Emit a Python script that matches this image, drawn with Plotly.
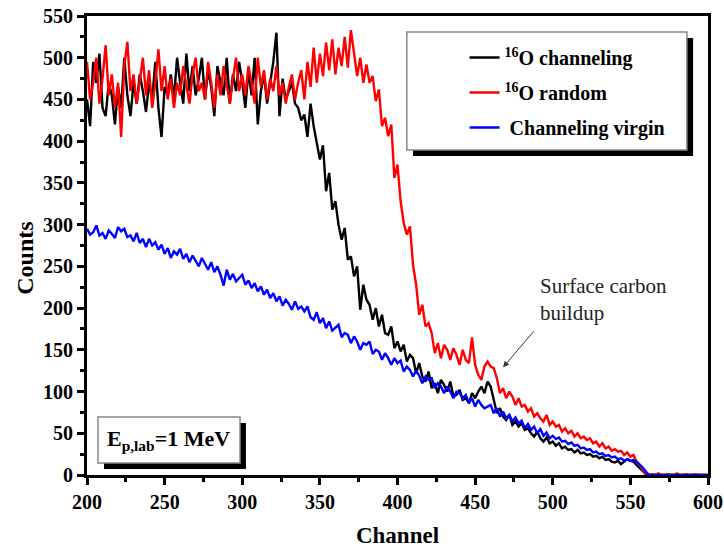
import plotly.graph_objects as go

# Channel grid (every second channel)
channel = list(range(200, 601, 2))

# 16O channeling spectrum
o16_channeling = [
    450, 418, 495, 470, 505, 440, 430, 470, 455, 420,
    465, 440, 500, 455, 430, 470, 445, 480, 460, 435,
    470, 450, 495, 440, 405, 465, 455, 480, 450, 500,
    470, 445, 505, 460, 490, 455, 475, 500, 450, 485,
    465, 430, 490, 470, 455, 500, 445, 480, 460, 495,
    470, 440, 485, 455, 500, 420, 460, 480, 445, 470,
    495, 530, 430, 475, 450, 460, 470, 445, 440, 425,
    432, 405, 445, 418, 400, 378, 395, 340, 362, 318,
    328, 300, 282, 296, 258, 262, 238, 250, 198, 228,
    210, 204, 186, 200, 178, 192, 170, 168, 178, 152,
    160, 148, 156, 136, 144, 140, 122, 134, 118, 112,
    124, 104, 110, 98, 114, 108, 100, 112, 94, 96,
    102, 90, 92, 86, 98, 92, 100, 106, 98, 112,
    106, 90, 74, 80, 70, 66, 72, 60, 64, 58,
    62, 54, 56, 50, 46, 52, 44, 40, 45, 38,
    40, 35, 38, 32, 34, 30, 31, 27, 30, 26,
    27, 24, 25, 22, 23, 20, 22, 18, 19, 16,
    15, 17, 13, 16, 19, 17, 16, 12, 8, 4,
    1, 0, 0, 0, 0, 0, 0, 0, 0, 0,
    0, 0, 0, 0, 0, 0, 0, 0, 0, 0,
    0,
]

# 16O random spectrum
o16_random = [
    495, 450, 470, 500, 445, 475, 515, 455, 480, 440,
    470, 405, 490, 519, 460, 480, 445, 470, 500, 455,
    485, 440, 470, 510, 460, 490, 450, 475, 440, 470,
    455, 490, 465, 445, 480, 500, 460, 470, 450, 495,
    470, 440, 480, 455, 490, 465, 445, 475, 500, 460,
    480, 455, 490, 470, 445, 500, 465, 485, 450, 475,
    460, 490, 455, 470, 445, 465, 480, 450, 470, 485,
    450, 495, 465, 512, 470, 505, 478, 518, 485, 522,
    480, 512, 490, 525, 488, 533, 505, 478, 500, 470,
    492, 470, 478, 448, 462, 418, 428, 406, 420, 356,
    372, 328, 302, 288, 298, 252, 228, 192, 204, 178,
    182, 170, 146, 158, 140, 156, 150, 138, 152, 144,
    132, 150, 138, 134, 165, 132, 120, 114, 130, 136,
    130, 128, 116, 98, 104, 92, 100, 94, 84, 92,
    82, 84, 76, 80, 70, 74, 68, 64, 72, 60,
    64, 58, 60, 52, 56, 50, 53, 46, 50, 44,
    46, 42, 44, 38, 40, 34, 38, 32, 34, 29,
    31, 28, 29, 24, 27, 22, 24, 16, 12, 6,
    2, 0, 1, 0, 2, 0, 0, 1, 0, 0,
    2, 0, 0, 1, 0, 0, 1, 0, 0, 0,
    0,
]

# Channeling spectrum of the virgin crystal
channeling_virgin = [
    295, 288, 291, 299, 287, 290, 283, 293, 289, 284,
    297, 292, 295, 285, 287, 280, 290, 278, 283, 273,
    283, 275, 279, 270, 276, 265, 272, 260, 268, 264,
    271, 259, 265, 255, 263, 257, 250, 260, 252, 246,
    255, 243, 250, 240, 227, 246, 234, 241, 232, 236,
    240, 228, 233, 224, 230, 220, 226, 216, 222, 212,
    218, 208, 214, 203, 210, 205, 198, 208, 199, 202,
    196, 202, 189, 186, 195, 182, 188, 176, 184, 173,
    176, 180, 165, 170, 168, 158, 166, 160, 150, 158,
    156, 160, 145, 150, 148, 138, 146, 140, 132, 140,
    134, 137, 124, 130, 126, 118, 125, 119, 110, 118,
    114, 116, 104, 110, 106, 98, 106, 100, 92, 100,
    98, 92, 96, 86, 92, 82, 90, 84, 80, 82,
    84, 74, 80, 70, 76, 68, 72, 64, 69, 62,
    65, 56, 61, 54, 58, 50, 55, 47, 51, 44,
    47, 43, 45, 40, 41, 37, 39, 35, 36, 32,
    33, 30, 31, 27, 28, 25, 26, 23, 24, 21,
    22, 19, 20, 17, 19, 17, 18, 16, 13, 9,
    4, 0, 0, 0, 0, 0, 0, 0, 0, 0,
    0, 0, 0, 0, 0, 0, 0, 0, 0, 0,
    0,
]

series = [
    ("<sup>16</sup>O channeling", o16_channeling, "#000000"),
    ("<sup>16</sup>O random", o16_random, "#ff0000"),
    (" Channeling virgin", channeling_virgin, "#0000ff"),
]

SERIF = "Liberation Serif"

fig = go.Figure()
for i, (name, values, color) in enumerate(series):
    fig.add_trace(go.Scatter(
        x=channel, y=values, mode="lines", name=name,
        legendgroup=f"g{i}",
        line=dict(color=color, width=2.4),
    ))

axis_common = dict(
    showline=True, linecolor="black", linewidth=3, mirror=True,
    showgrid=False, zeroline=False, automargin=False,
    ticks="outside", ticklen=7, tickwidth=3, tickcolor="black",
    tickfont=dict(family=SERIF, size=20, color="black", weight="bold"),
)

fig.update_xaxes(
    range=[200, 600], dtick=50, tick0=200,
    minor=dict(ticks="outside", ticklen=4, tickwidth=3, dtick=25, tickcolor="black"),
    title=dict(text="Channel", font=dict(family=SERIF, size=23, color="black", weight="bold"), standoff=16),
    **axis_common,
)
fig.update_yaxes(
    range=[0, 550], dtick=50, tick0=0,
    minor=dict(ticks="outside", ticklen=4, tickwidth=3, dtick=25, tickcolor="black"),
    **axis_common,
)

# Inward-pointing ticks on the top and right frame edges
inner = dict(
    showline=False, showgrid=False, zeroline=False, showticklabels=False, automargin=False,
    ticks="inside", ticklen=7, tickwidth=3, tickcolor="black",
)
fig.update_layout(
    xaxis2=dict(overlaying="x", side="top", anchor="y", range=[200, 600], dtick=50, tick0=200,
                minor=dict(ticks="inside", ticklen=4, tickwidth=3, dtick=25, tickcolor="black"), **inner),
    yaxis2=dict(overlaying="y", side="right", anchor="x", range=[0, 550], dtick=50, tick0=0,
                minor=dict(ticks="inside", ticklen=4, tickwidth=3, dtick=25, tickcolor="black"), **inner),
)

# Legend frame with drop shadow, and the beam-energy box
shapes = [
    dict(type="rect", xref="paper", yref="paper", x0=0.525, x1=0.976, y0=0.695, y1=0.952,
         fillcolor="black", line=dict(width=0)),
    dict(type="rect", xref="paper", yref="paper", x0=0.515, x1=0.966, y0=0.708, y1=0.965,
         fillcolor="white", line=dict(color="#888888", width=1.5)),
    dict(type="rect", xref="paper", yref="paper", x0=0.0274, x1=0.256, y0=0.0131, y1=0.1133,
         fillcolor="black", line=dict(width=0)),
    dict(type="rect", xref="paper", yref="paper", x0=0.0177, x1=0.2464, y0=0.0261, y1=0.1264,
         fillcolor="white", line=dict(color="#888888", width=1.5)),
]

annotations = [
    # y-axis title, set slightly below the plot's mid-height
    dict(xref="paper", yref="paper", x=-0.100, y=0.473, xanchor="center", yanchor="middle",
         text="Counts", textangle=-90, showarrow=False,
         font=dict(family=SERIF, size=24, color="black", weight="bold")),
    dict(xref="paper", yref="paper", x=0.132, y=0.076, xanchor="center", yanchor="middle",
         text="E<sub>p,lab</sub>=1 MeV", showarrow=False,
         font=dict(family=SERIF, size=22, color="black", weight="bold")),
    dict(xref="x", yref="y", x=490.5, y=210, xanchor="left", yanchor="middle", align="left",
         text="Surface carbon<br>buildup", showarrow=False,
         font=dict(family=SERIF, size=21, color="#222222")),
    dict(xref="x", yref="y", x=468, y=129, ax=488.6, ay=174, axref="x", ayref="y",
         text="", showarrow=True, arrowhead=2, arrowsize=1.2, arrowwidth=1, arrowcolor="#333333"),
]

fig.update_layout(
    width=724, height=548,
    margin=dict(l=87, r=16, t=16, b=73, autoexpand=False),
    paper_bgcolor="white", plot_bgcolor="white",
    shapes=shapes, annotations=annotations,
    showlegend=True,
    legend=dict(
        x=0.608, y=0.952, xanchor="left", yanchor="top",
        bgcolor="rgba(0,0,0,0)", borderwidth=0,
        tracegroupgap=6,
        font=dict(family=SERIF, size=20, color="black", weight="bold"),
    ),
)

fig.write_html("out.html")
